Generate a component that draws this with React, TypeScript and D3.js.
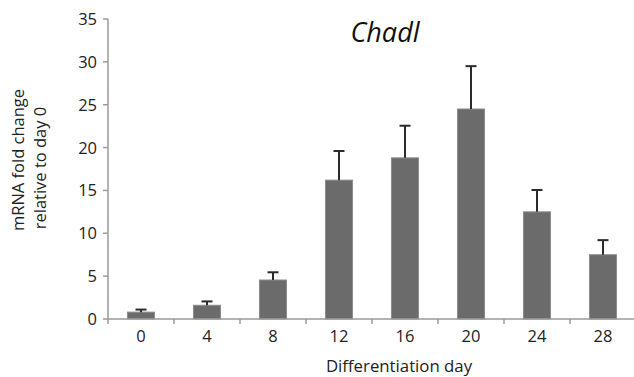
import { useMemo } from "react"
import * as d3 from "d3"

// datos
const dias = ["0", "4", "8", "12", "16", "20", "24", "28"]
const medias = [0.8, 1.6, 4.55, 16.2, 18.8, 24.5, 12.5, 7.5]
const errores = [0.3, 0.45, 0.9, 3.4, 3.75, 5.0, 2.55, 1.7]
const ticksY = [0, 5, 10, 15, 20, 25, 30, 35]

const W = 634
const H = 377
const FONT = "'Open Sans', 'Noto Sans', sans-serif"

export default function App() {
  const x = useMemo(() => d3.scaleBand().domain(dias).range([108, 636]).paddingInner(0.59).paddingOuter(0.295), [])
  const y = useMemo(() => d3.scaleLinear().domain([0, 35]).range([319, 19]), [])
  const bordes = d3.range(dias.length + 1).map((i) => 108 + i * x.step())

  return (
    <svg width={W} height={H} style={{ position: "absolute", left: 0, top: 0, background: "#fff" }} fontFamily={FONT}>
      {/* barras */}
      {dias.map((d, i) => (
        <rect
          key={d}
          x={x(d)}
          y={y(medias[i])}
          width={x.bandwidth()}
          height={y(0) - y(medias[i])}
          fill="#6b6b6b"
          stroke="#8c8c8c"
          strokeWidth={1}
        />
      ))}

      {/* barras de error */}
      {dias.map((d, i) => {
        const cx = (x(d) as number) + x.bandwidth() / 2
        const top = y(medias[i] + errores[i])
        return (
          <g key={"e" + d} stroke="#2b2b2b" strokeWidth={2}>
            <line x1={cx} x2={cx} y1={y(medias[i])} y2={top} />
            <line x1={cx - 5.5} x2={cx + 5.5} y1={top} y2={top} />
          </g>
        )
      })}

      {/* eje Y */}
      <line x1={108} x2={108} y1={y(35)} y2={y(0)} stroke="#9a9a9a" strokeWidth={1.5} />
      {ticksY.map((t) => (
        <g key={t}>
          <line x1={103} x2={108} y1={y(t)} y2={y(t)} stroke="#9a9a9a" strokeWidth={1.5} />
          <text x={97} y={y(t)} dy="0.36em" textAnchor="end" fontSize={16.5} fill="#222">
            {t}
          </text>
        </g>
      ))}

      {/* eje X */}
      <line x1={108} x2={W} y1={y(0)} y2={y(0)} stroke="#9a9a9a" strokeWidth={1.5} />
      {bordes.map((bx, i) => (
        <line key={i} x1={bx} x2={bx} y1={y(0)} y2={y(0) + 5} stroke="#9a9a9a" strokeWidth={1.5} />
      ))}
      {dias.map((d) => (
        <text key={"t" + d} x={(x(d) as number) + x.bandwidth() / 2} y={342} textAnchor="middle" fontSize={16.5} fill="#222">
          {d}
        </text>
      ))}

      {/* titulos */}
      <text x={385} y={42} textAnchor="middle" fontSize={27} fontStyle="italic" fill="#111">
        Chadl
      </text>
      <text x={399} y={372} textAnchor="middle" fontSize={16.8} fill="#222">
        Differentiation day
      </text>
      <text transform="translate(24,160) rotate(-90)" textAnchor="middle" fontSize={16.5} fill="#222">
        <tspan x={0} dy={0}>mRNA fold change</tspan>
        <tspan x={-8} dy={22}>relative to day 0</tspan>
      </text>
    </svg>
  )
}
